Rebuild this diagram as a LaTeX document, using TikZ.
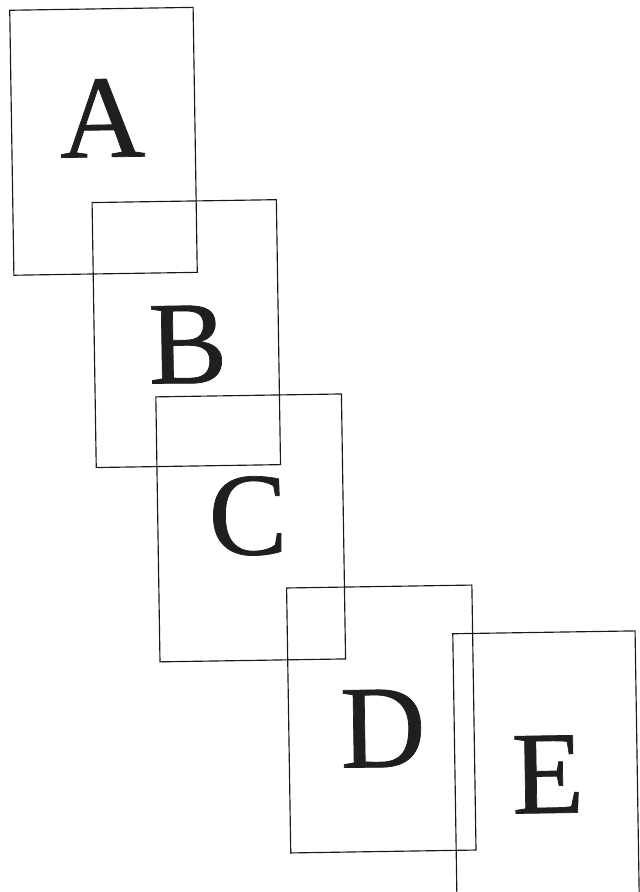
\documentclass[tikz,border=0pt]{standalone}
\usepackage{fontspec}
\setmainfont{Liberation Serif}
\newfontfamily\lettersfont[FakeBold=0.6]{Liberation Serif}
\begin{document}
\begin{tikzpicture}[x=1pt,y=1pt,
  sheet/.style={draw=black!90, line width=1.15pt, rotate=0.9, minimum height=265pt, inner sep=0pt, outer sep=0pt},
  letter/.style={anchor=base, rotate=0.9, inner sep=0pt, text=black!88, font=\lettersfont\fontsize{118}{118}\selectfont}]
\useasboundingbox (0,0) rectangle (640,-892);
\clip (0,0) rectangle (640,-892);
\node[sheet, minimum width=183.4pt] (boxA) at (103.5,-141.3) {};
\node[sheet, minimum width=184.3pt] (boxB) at (186.3,-333.6) {};
\node[sheet, minimum width=185.6pt] (boxC) at (250.7,-527.9) {};
\node[sheet, minimum width=185.3pt] (boxD) at (381.3,-719.0) {};
\node[sheet, minimum width=182.3pt] (boxE) at (546.0,-764.8) {};
\node[letter] (letA) at (103,-157) {A};
\node[letter] (letB) at (188.5,-383) {B};
\node[letter] (letC) at (248.5,-554.5) {C};
\node[letter] (letD) at (383.5,-767) {D};
\node[letter] (letE) at (548.5,-813) {E};
\end{tikzpicture}
\end{document}
